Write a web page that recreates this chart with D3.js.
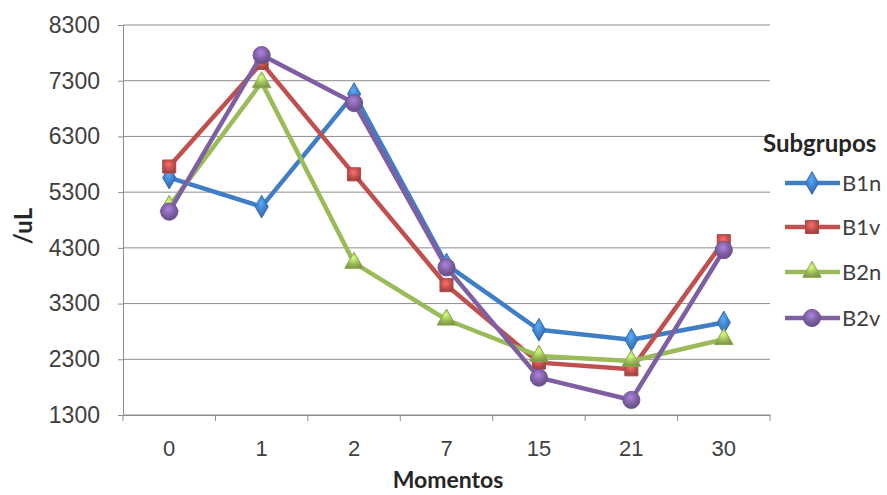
<!DOCTYPE html>
<html>
<head>
<meta charset="utf-8">
<script src="https://cdn.jsdelivr.net/npm/d3@7"></script>
<style>
  html, body { margin: 0; padding: 0; background: #fff; }
  svg { display: block; font-family: Lato, "Open Sans", sans-serif; }
</style>
</head>
<body>
<svg id="chart" width="887" height="495"></svg>
<script>
// Sampling moments (days) and blood count per subgroup (/uL)
const momentos = ["0", "1", "2", "7", "15", "21", "30"];
const yTicks = [1300, 2300, 3300, 4300, 5300, 6300, 7300, 8300];

const b1n = [5560, 5040, 7060, 4000, 2830, 2650, 2960];
const b1v = [5760, 7620, 5620, 3630, 2240, 2120, 4420];
const b2n = [5050, 7270, 4030, 3010, 2360, 2270, 2660];
const b2v = [4950, 7760, 6900, 3950, 1970, 1570, 4260];

const seriesNames = ["B1n", "B1v", "B2n", "B2v"];
const seriesValues = [b1n, b1v, b2n, b2v];
const seriesColors = ["#3F7DC5", "#C0504D", "#9BBB59", "#7D5FA2"];
const seriesShapes = ["diamond", "square", "triangle", "circle"];

const svg = d3.select("#chart");
const plot = { left: 123, right: 770, top: 25, bottom: 415 };

const x = d3.scaleBand().domain(momentos).range([plot.left, plot.right]).padding(0);
const y = d3.scaleLinear().domain([1300, 8300]).range([plot.bottom, plot.top]);
const cx = d => x(d) + x.bandwidth() / 2;

// Glossy marker fills
const defs = svg.append("defs");
seriesColors.forEach((c, i) => {
  const g = defs.append("radialGradient")
    .attr("id", "grad" + i).attr("cx", "45%").attr("cy", "35%").attr("r", "65%");
  g.append("stop").attr("offset", "0%").attr("stop-color", d3.color(c).brighter(0.9));
  g.append("stop").attr("offset", "60%").attr("stop-color", c);
  g.append("stop").attr("offset", "100%").attr("stop-color", d3.color(c).darker(0.6));
});

// Horizontal gridlines
svg.append("g").selectAll("line").data(yTicks).join("line")
  .attr("x1", plot.left).attr("x2", plot.right)
  .attr("y1", d => y(d)).attr("y2", d => y(d))
  .attr("stroke", "#8c8c8c").attr("stroke-width", 1);

// Y axis
const yAxis = svg.append("g").attr("transform", `translate(${plot.left},0)`)
  .call(d3.axisLeft(y).tickValues(yTicks).tickSize(5).tickPadding(18).tickFormat(d3.format("d")));
yAxis.select(".domain").attr("stroke", "#8c8c8c");
yAxis.selectAll(".tick line").attr("stroke", "#8c8c8c");
yAxis.selectAll("text").attr("font-size", 23).attr("fill", "#404040");

// X axis: labels centred in each category, ticks on category boundaries
const xAxis = svg.append("g").attr("transform", `translate(0,${plot.bottom})`)
  .call(d3.axisBottom(x).tickSize(0).tickPadding(25));
xAxis.select(".domain").attr("stroke", "#8c8c8c");
xAxis.selectAll("text").attr("font-size", 22).attr("fill", "#404040");
const bounds = momentos.map(d => x(d)).concat([plot.right]);
svg.append("g").selectAll("line").data(bounds).join("line")
  .attr("x1", d => d).attr("x2", d => d)
  .attr("y1", plot.bottom).attr("y2", plot.bottom + 6)
  .attr("stroke", "#8c8c8c");

// Axis titles
svg.append("text").attr("x", 448).attr("y", 488)
  .attr("text-anchor", "middle").attr("font-size", 23).attr("font-weight", "bold")
  .attr("fill", "#262626").text("Momentos");
svg.append("text").attr("transform", "translate(32,226) rotate(-90)")
  .attr("text-anchor", "middle").attr("font-size", 24).attr("font-weight", "bold")
  .attr("fill", "#262626").text("/uL");

// Marker shapes
function symbolFor(shape, size) {
  const t = { diamond: d3.symbolDiamond, square: d3.symbolSquare, triangle: d3.symbolTriangle, circle: d3.symbolCircle }[shape];
  return d3.symbol().type(t).size(size)();
}
const markerSize = { diamond: 150, square: 170, triangle: 150, circle: 230 };

const line = d3.line().x((d, i) => cx(momentos[i])).y(d => y(d));

seriesValues.forEach((vals, i) => {
  const g = svg.append("g");
  g.append("path").datum(vals).attr("d", line)
    .attr("fill", "none").attr("stroke", seriesColors[i])
    .attr("stroke-width", 4.5).attr("stroke-linejoin", "round");
  g.selectAll("path.m").data(vals).join("path").attr("class", "m")
    .attr("transform", (d, j) => `translate(${cx(momentos[j])},${y(d)})`)
    .attr("d", symbolFor(seriesShapes[i], markerSize[seriesShapes[i]]))
    .attr("fill", `url(#grad${i})`)
    .attr("stroke", d3.color(seriesColors[i]).darker(0.3)).attr("stroke-width", 1);
});

// Legend
const legend = svg.append("g");
legend.append("text").attr("x", 763).attr("y", 152)
  .attr("font-size", 24).attr("font-weight", "bold").attr("fill", "#262626").text("Subgrupos");
const legY = [183, 227, 272, 318];
seriesNames.forEach((name, i) => {
  const row = legend.append("g").attr("transform", `translate(0,${legY[i]})`);
  row.append("line").attr("x1", 785).attr("x2", 840).attr("y1", 0).attr("y2", 0)
    .attr("stroke", seriesColors[i]).attr("stroke-width", 4.5);
  row.append("path").attr("transform", "translate(812,0)")
    .attr("d", symbolFor(seriesShapes[i], markerSize[seriesShapes[i]]))
    .attr("fill", `url(#grad${i})`)
    .attr("stroke", d3.color(seriesColors[i]).darker(0.3)).attr("stroke-width", 1);
  row.append("text").attr("x", 842).attr("y", 8)
    .attr("font-size", 22).attr("fill", "#404040").text(name);
});
</script>
</body>
</html>
